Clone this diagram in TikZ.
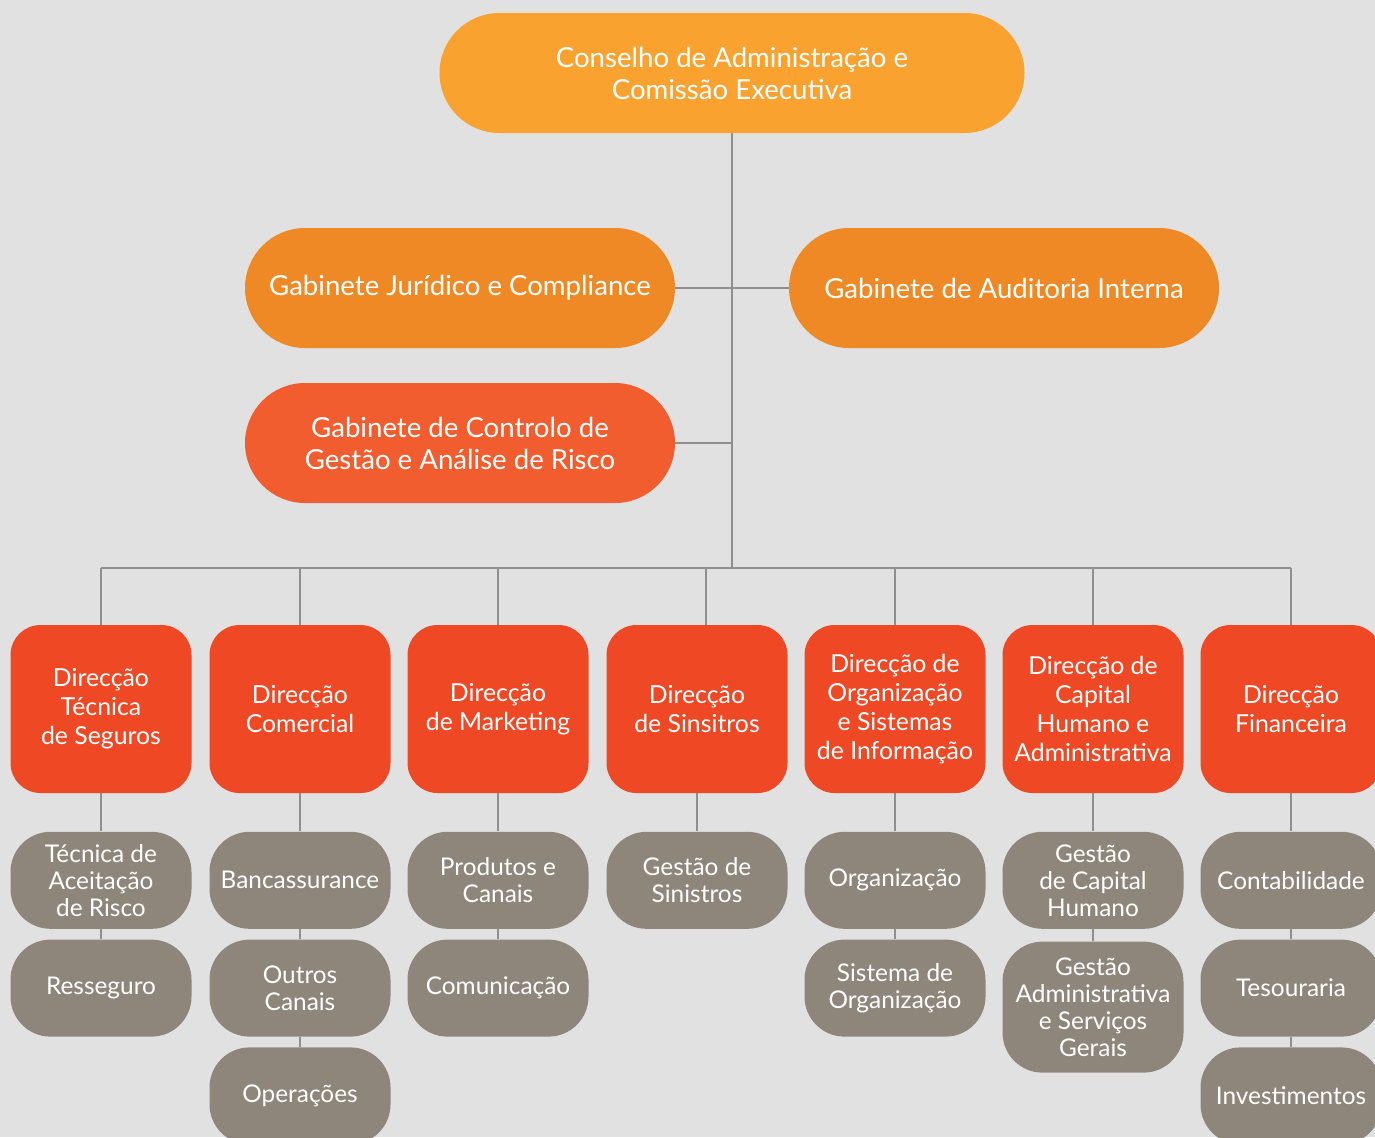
\documentclass[tikz,border=0pt]{standalone}
\usepackage{fontspec}
\setmainfont{Lato}
\usepackage{tikz}
\usetikzlibrary{positioning}
\definecolor{cbg}{HTML}{E1E1E1}
\definecolor{cboard}{HTML}{F9A22F}
\definecolor{cgab}{HTML}{EF8926}
\definecolor{cctrl}{HTML}{F15D2E}
\definecolor{cdir}{HTML}{EE4825}
\definecolor{csub}{HTML}{8E867B}
\definecolor{cline}{HTML}{8F8F8F}

\begin{document}
\begin{tikzpicture}[
    x=0.5pt, y=-0.5pt,          % one unit = one pixel of the layout
    node distance=19pt and 10pt,
    ]
% -------------------------------------------------
\tikzset{
  base/.style={rectangle, text=white, align=center, inner sep=2pt},
  board/.style={base, fill=cboard, minimum width=292.5pt, minimum height=60pt, rounded corners=30pt, font=\fontsize{13.8}{16}\selectfont},
  gab/.style={base, fill=cgab, minimum width=215pt, minimum height=60pt, rounded corners=30pt, font=\fontsize{13.8}{16}\selectfont},
  ctrl/.style={gab, fill=cctrl},
  dir/.style={base, fill=cdir, minimum width=90.5pt, minimum height=84pt, rounded corners=15pt, font=\fontsize{12.4}{14.5}\selectfont},
  sub/.style={base, fill=csub, minimum width=90.5pt, minimum height=48.5pt, inner ysep=5pt, rounded corners=20pt, font=\fontsize{12.2}{13.5}\selectfont},
  line/.style={draw=cline, line width=0.75pt}
}
\fill [cbg] (0,0) rectangle (1375,1137);
\useasboundingbox (0,0) rectangle (1375,1137);
\clip (0,0) rectangle (1375,1137);

% top of the tree
\node [board] (cons) at (732,73) {Conselho de Administração e\\Comissão Executiva};
\node [gab] (jur) at (460,288) {Gabinete Jurídico e Compliance};
\node [gab] (aud) at (1004,288) {Gabinete de Auditoria Interna};
\node [ctrl] (risk) at (460,443) {Gabinete de Controlo de\\Gestão e Análise de Risco};
\coordinate (bus) at (732,568);

% directorates
\node [dir] (dts) at (101,709) {Direcção\\Técnica\\de Seguros};
\node [dir] (dcom) at (300,709) {Direcção\\Comercial};
\node [dir] (dmkt) at (498,709) {Direcção\\de Marketing};
\node [dir] (dsin) at (697,709) {Direcção\\de Sinsitros};
\node [dir] (dosi) at (895,709) {Direcção de\\Organização\\e Sistemas\\de Informação};
\node [dir] (dcha) at (1093,709) {Direcção de\\Capital\\Humano e\\Administrativa};
\node [dir] (dfin) at (1291,709) {Direcção\\Financeira};

% departments
\node [sub, below=of dts] (tar) {Técnica de\\Aceitação\\de Risco};
\node [sub, below=5pt of tar] (ress) {Resseguro};
\node [sub, below=of dcom] (banc) {Bancassurance};
\node [sub, below=5pt of banc] (outr) {Outros\\Canais};
\node [sub, below=5pt of outr] (oper) {Operações};
\node [sub, below=of dmkt] (prod) {Produtos e\\Canais};
\node [sub, below=5pt of prod] (comu) {Comunicação};
\node [sub, below=of dsin] (gsin) {Gestão de\\Sinistros};
\node [sub, below=of dosi] (orga) {Organização};
\node [sub, below=5pt of orga] (sorg) {Sistema de\\Organização};
\node [sub, below=of dcha] (gcap) {Gestão\\de Capital\\Humano};
\node [sub, below=6pt of gcap, minimum height=65.5pt] (gadm) {Gestão\\Administrativa\\e Serviços\\Gerais};
\node [sub, below=of dfin] (cont) {Contabilidade};
\node [sub, below=5pt of cont] (tes) {Tesouraria};
\node [sub, below=5pt of tes] (inv) {Investimentos};

% connectors
\path [line] (cons) -- (bus);
\path [line] (jur) -- (aud);
\path [line] (risk) -- (risk -| bus);
\path [line] (dts |- bus) -- (dfin |- bus);
\path [line] (dts) -- (dts |- bus);
\path [line] (dcom) -- (dcom |- bus);
\path [line] (dmkt) -- (dmkt |- bus);
\path [line] ([xshift=4.5pt]dsin.north) -- ([xshift=4.5pt]dsin.north |- bus);
\path [line] (dosi) -- (dosi |- bus);
\path [line] (dcha) -- (dcha |- bus);
\path [line] (dfin) -- (dfin |- bus);
\path [line] (dts) -- (tar);
\path [line] (tar) -- (ress);
\path [line] (dcom) -- (banc);
\path [line] (banc) -- (outr);
\path [line] (outr) -- (oper);
\path [line] (dmkt) -- (prod);
\path [line] (prod) -- (comu);
\path [line] (dsin) -- (gsin);
\path [line] (dosi) -- (orga);
\path [line] (orga) -- (sorg);
\path [line] (dcha) -- (gcap);
\path [line] (gcap) -- (gadm);
\path [line] (dfin) -- (cont);
\path [line] (cont) -- (tes);
\path [line] (tes) -- (inv);
\end{tikzpicture}
\end{document}
